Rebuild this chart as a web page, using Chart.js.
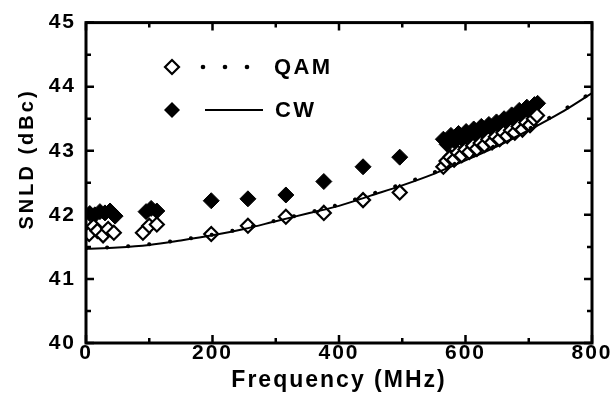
<!DOCTYPE html>
<html>
<head>
<meta charset="utf-8">
<script src="https://cdn.jsdelivr.net/npm/chart.js@4.4.1/dist/chart.umd.min.js"></script>
<style>
  html, body { margin: 0; padding: 0; background: #fff; }
  #wrap { width: 613px; height: 405px; }
</style>
</head>
<body>
<div id="wrap"><canvas id="c" width="613" height="405"></canvas></div>
<script>
// ---- data ----
const xTickLabels = ['0', '200', '400', '600', '800'];
const yTickLabels = ['40', '41', '42', '43', '44', '45'];
const seriesNames = ['QAM', 'CW'];

const qamFreq = [5, 12, 18, 27, 35, 44, 90, 100, 112, 198, 256, 316, 376, 438, 496,
  565, 570, 576, 582, 588, 594, 600, 606, 612, 618, 624, 630, 636, 642, 648, 654, 660, 666, 672, 678, 684, 690, 696, 702, 708, 713];
const qamSnld = [41.70, 41.82, 41.75, 41.68, 41.78, 41.72, 41.72, 41.83, 41.85, 41.70, 41.83, 41.97, 42.03, 42.23, 42.35,
  42.75, 42.84, 42.90, 42.86, 42.97, 42.93, 43.02, 42.98, 43.08, 43.03, 43.12, 43.09, 43.18, 43.13, 43.22, 43.18, 43.28, 43.23, 43.32, 43.28, 43.38, 43.33, 43.44, 43.40, 43.50, 43.55];

const cwFreq = [6, 14, 22, 30, 38, 46, 95, 103, 112, 198, 256, 316, 376, 438, 496,
  565, 571, 577, 583, 589, 595, 601, 607, 613, 619, 625, 631, 637, 643, 649, 655, 661, 667, 673, 679, 685, 691, 697, 703, 709, 714];
const cwSnld = [42.02, 42.00, 42.05, 42.03, 42.06, 41.98, 42.05, 42.10, 42.06, 42.22, 42.25, 42.31, 42.52, 42.75, 42.90,
  43.18, 43.10, 43.24, 43.15, 43.27, 43.18, 43.30, 43.22, 43.34, 43.27, 43.38, 43.31, 43.41, 43.35, 43.45, 43.40, 43.50, 43.44, 43.56, 43.50, 43.63, 43.57, 43.68, 43.63, 43.72, 43.74];

const fitFreq = [0, 50, 100, 150, 200, 250, 300, 350, 400, 450, 500, 550, 600, 650, 700, 750, 800];
const cwFit  = [41.47, 41.49, 41.53, 41.60, 41.68, 41.78, 41.90, 42.02, 42.14, 42.30, 42.46, 42.64, 42.85, 43.07, 43.32, 43.59, 43.90];
const qamFit = [41.48, 41.50, 41.54, 41.61, 41.69, 41.79, 41.91, 42.03, 42.16, 42.32, 42.48, 42.66, 42.87, 43.09, 43.34, 43.61, 43.91];

const pts = (xs, ys) => xs.map((x, i) => ({ x: x, y: ys[i] }));

const FONT = '"Liberation Sans", Arial, Helvetica, sans-serif';

const framePlugin = {
  id: 'frame',
  beforeUpdate(chart) { chart.ctx.letterSpacing = '2px'; },
  beforeLayout(chart) { chart.ctx.letterSpacing = '2px'; },
  beforeDraw(chart) {
    const ctx = chart.ctx;
    ctx.save();
    ctx.fillStyle = '#fff';
    ctx.fillRect(0, 0, chart.width, chart.height);
    ctx.restore();
    ctx.letterSpacing = '2px';
  },
  afterDatasetsDraw(chart) {
    const ctx = chart.ctx;
    const a = chart.chartArea;
    const xs = chart.scales.x, ys = chart.scales.y;
    ctx.save();
    ctx.strokeStyle = '#000';
    ctx.lineCap = 'butt';
    // inward ticks
    ctx.lineWidth = 2.5;
    for (let v = 0; v <= 800; v += 100) {
      const px = xs.getPixelForValue(v);
      const len = v % 200 === 0 ? 8 : 5;
      ctx.beginPath();
      ctx.moveTo(px, a.bottom); ctx.lineTo(px, a.bottom - len);
      ctx.moveTo(px, a.top); ctx.lineTo(px, a.top + len);
      ctx.stroke();
    }
    for (let k = 0; k <= 10; k++) {
      const v = 40 + k * 0.5;
      const py = ys.getPixelForValue(v);
      const len = k % 2 === 0 ? 8 : 5;
      ctx.beginPath();
      ctx.moveTo(a.left, py); ctx.lineTo(a.left + len, py);
      ctx.moveTo(a.right, py); ctx.lineTo(a.right - len, py);
      ctx.stroke();
    }
    // frame
    ctx.lineWidth = 3;
    ctx.strokeRect(a.left, a.top, a.right - a.left, a.bottom - a.top);

    // y axis title
    ctx.fillStyle = '#000';
    ctx.font = 'bold 20px ' + FONT;
    ctx.letterSpacing = '3px';
    ctx.textAlign = 'center';
    ctx.textBaseline = 'middle';
    ctx.translate(27, 159);
    ctx.rotate(-Math.PI / 2);
    ctx.fillText('SNLD (dBc)', 0, 0);
    ctx.restore();

    // legend
    ctx.save();
    ctx.letterSpacing = '2.4px';
    ctx.font = 'bold 22px ' + FONT;
    ctx.fillStyle = '#000';
    ctx.strokeStyle = '#000';
    ctx.textAlign = 'left';
    ctx.textBaseline = 'middle';
    const diamond = (cx, cy, r, filled) => {
      ctx.beginPath();
      ctx.moveTo(cx, cy - r); ctx.lineTo(cx + r, cy); ctx.lineTo(cx, cy + r); ctx.lineTo(cx - r, cy); ctx.closePath();
      if (filled) { ctx.fill(); } else { ctx.fillStyle = '#fff'; ctx.fill(); ctx.fillStyle = '#000'; ctx.lineWidth = 2.2; ctx.stroke(); }
    };
    // QAM row
    diamond(172, 67, 7, false);
    [203, 225, 247].forEach(x => { ctx.beginPath(); ctx.arc(x, 67, 2.3, 0, Math.PI * 2); ctx.fill(); });
    ctx.fillText(chart.data.datasets[2].label, 274, 68);
    // CW row
    diamond(172, 110, 8, true);
    ctx.lineWidth = 2;
    ctx.beginPath(); ctx.moveTo(205, 110); ctx.lineTo(263, 110); ctx.stroke();
    ctx.fillText(chart.data.datasets[3].label, 275, 111);
    ctx.restore();
  }
};

new Chart(document.getElementById('c'), {
  type: 'scatter',
  data: {
    datasets: [
      { label: seriesNames[0] + ' fit', data: pts(fitFreq, qamFit), showLine: true, pointRadius: 0,
        borderColor: '#000', borderWidth: 4, borderDash: [0.1, 21], borderCapStyle: 'round',
        cubicInterpolationMode: 'monotone' },
      { label: seriesNames[1] + ' fit', data: pts(fitFreq, cwFit), showLine: true, pointRadius: 0,
        borderColor: '#000', borderWidth: 2, cubicInterpolationMode: 'monotone' },
      { label: seriesNames[0], data: pts(qamFreq, qamSnld), pointStyle: 'rectRot', pointRadius: 7,
        pointBackgroundColor: '#fff', pointBorderColor: '#000', pointBorderWidth: 2.2 },
      { label: seriesNames[1], data: pts(cwFreq, cwSnld), pointStyle: 'rectRot', pointRadius: 8,
        pointBackgroundColor: '#000', pointBorderColor: '#000', pointBorderWidth: 1 }
    ]
  },
  options: {
    responsive: false,
    animation: false,
    devicePixelRatio: 1,
    layout: { padding: { top: 16, right: 21, left: 0, bottom: 0 } },
    plugins: { legend: { display: false }, tooltip: { enabled: false } },
    scales: {
      x: {
        type: 'linear', min: 0, max: 800,
        grid: { display: false, drawTicks: false },
        border: { display: false },
        ticks: {
          stepSize: 200, padding: -2, color: '#000', maxRotation: 0,
          font: { family: FONT, size: 21, weight: 'bold' },
          callback: (v) => xTickLabels[xTickLabels.indexOf(String(v))] ?? ''
        },
        title: { display: true, text: 'Frequency (MHz)', color: '#000',
          font: { family: FONT, size: 23, weight: 'bold' }, padding: { top: 0, bottom: 11 } },
        afterFit: (s) => { s.height = 62; }
      },
      y: {
        type: 'linear', min: 40, max: 45,
        grid: { display: false, drawTicks: false },
        border: { display: false },
        ticks: {
          stepSize: 1, padding: 10, color: '#000',
          font: { family: FONT, size: 21, weight: 'bold' },
          callback: (v) => yTickLabels[yTickLabels.indexOf(String(v))] ?? ''
        },
        afterFit: (s) => { s.width = 86; }
      }
    }
  },
  plugins: [framePlugin]
});
</script>
</body>
</html>
